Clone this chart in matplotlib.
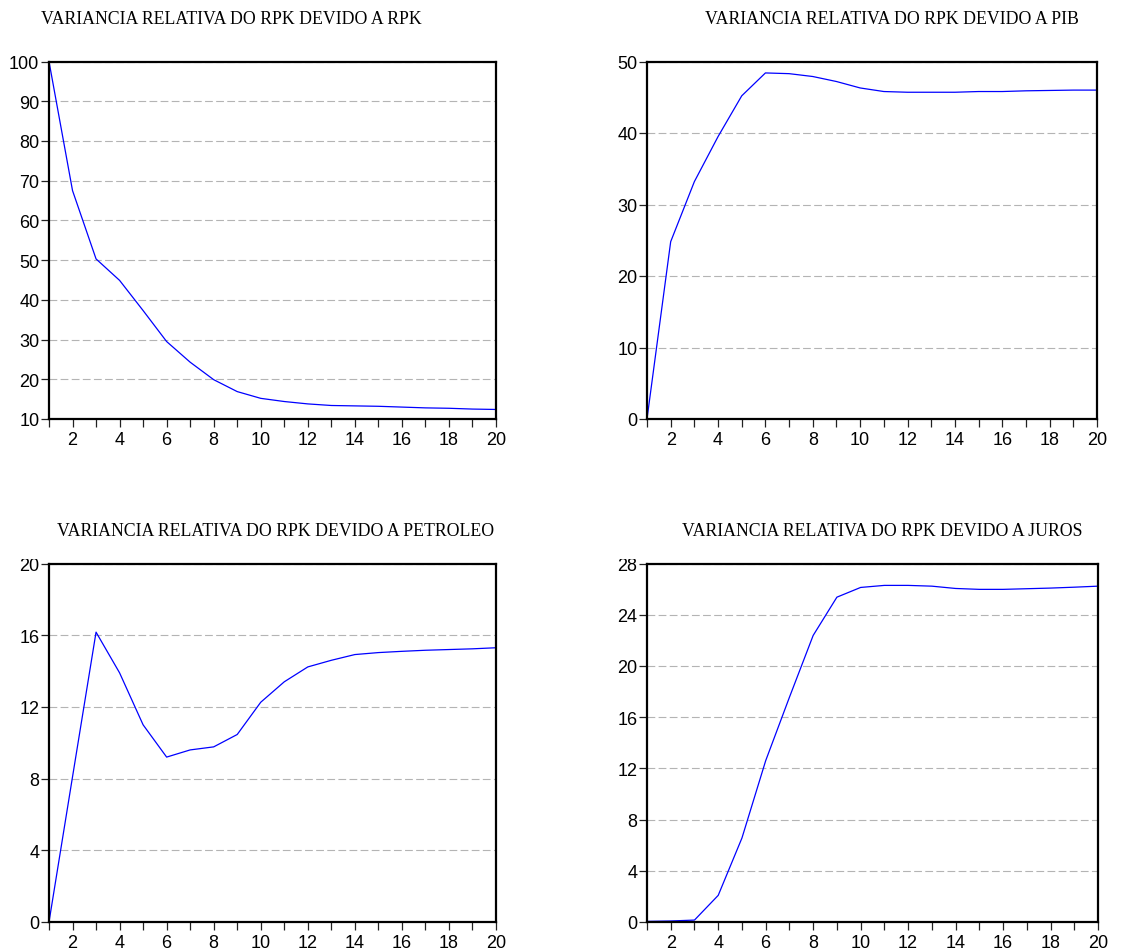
import matplotlib
matplotlib.use('Agg')
import matplotlib.pyplot as plt
from matplotlib.transforms import Bbox, TransformedBbox

periods = list(range(1, 21))

rpk = [100.0, 67.5, 50.3, 44.9, 37.3, 29.5, 24.3, 19.9, 16.9, 15.2,
       14.4, 13.8, 13.4, 13.3, 13.2, 13.0, 12.8, 12.7, 12.5, 12.4]
pib = [0.0, 24.8, 33.2, 39.5, 45.2, 48.4, 48.3, 47.9, 47.2, 46.3,
       45.8, 45.7, 45.7, 45.7, 45.8, 45.8, 45.9, 45.95, 46.0, 46.0]
petroleo = [0.0, 8.1, 16.17, 13.9, 11.0, 9.2, 9.6, 9.77, 10.46, 12.26,
            13.4, 14.23, 14.6, 14.92, 15.03, 15.1, 15.16, 15.2, 15.24, 15.3]
juros = [0.05, 0.08, 0.15, 2.08, 6.56, 12.6, 17.55, 22.38, 25.37, 26.13,
         26.29, 26.29, 26.23, 26.05, 25.98, 25.98, 26.03, 26.08, 26.15, 26.23]

titles = ['VARIANCIA RELATIVA DO RPK DEVIDO A RPK',
          'VARIANCIA RELATIVA DO RPK DEVIDO A PIB',
          'VARIANCIA RELATIVA DO RPK DEVIDO A PETROLEO',
          'VARIANCIA RELATIVA DO RPK DEVIDO A JUROS']
yticks = [list(range(10, 101, 10)), list(range(0, 51, 10)),
          list(range(0, 21, 4)), list(range(0, 29, 4))]

W, H = 1146, 953


def makePanel(fig, rect, series, ticks, title, title_xy, clip_top=None):
    left, top, right, bottom = rect
    ax = fig.add_axes([left / W, 1 - bottom / H, (right - left) / W, (bottom - top) / H])
    ax.plot(periods, series, color='#0000ff', linewidth=0.9)
    ax.set_xlim(1, 20)
    ax.set_ylim(ticks[0], ticks[-1])
    ax.set_xticks(periods)
    ax.set_xticklabels([str(p) if p % 2 == 0 else '' for p in periods])
    ax.set_yticks(ticks)
    ax.yaxis.grid(True, color='#b4b4b4', linestyle=(0, (7, 3)), linewidth=0.8)
    ax.tick_params(direction='out', length=5.5, width=0.9, color='#222222',
                   labelsize=13, top=False, right=False)
    ax.tick_params(axis='y', pad=1.5)
    ax.tick_params(axis='x', pad=3)
    for s in ax.spines.values():
        s.set_linewidth(1.6)
        s.set_color('black')
    for lab in ax.get_xticklabels() + ax.get_yticklabels():
        lab.set_fontfamily('Liberation Sans')
    if clip_top is not None:
        # the top label is cut off in the original export
        lab = ax.get_yticklabels()[-1]
        box = TransformedBbox(Bbox([[0, 0], [1, 1 - clip_top / H]]), fig.transFigure)
        lab.set_clip_on(True)
        lab.set_clip_box(box)
    fig.text(title_xy[0] / W, 1 - title_xy[1] / H, title, ha='center', va='center',
             fontsize=12.8, family='Liberation Serif')
    return ax


def plotResult():
    fig = plt.figure(figsize=(W / 100, H / 100), dpi=100)

    makePanel(fig, (49, 62.5, 496, 420), rpk, yticks[0], titles[0], (231, 20))
    makePanel(fig, (647, 62.5, 1097, 420), pib, yticks[1], titles[1], (892, 20))
    makePanel(fig, (49, 564.5, 496, 923), petroleo, yticks[2], titles[2], (276, 531), clip_top=560)
    makePanel(fig, (647, 564.5, 1098, 923), juros, yticks[3], titles[3], (882, 531), clip_top=560)

    plt.savefig('out.png', dpi=100)


if __name__ == '__main__':
    plotResult()
